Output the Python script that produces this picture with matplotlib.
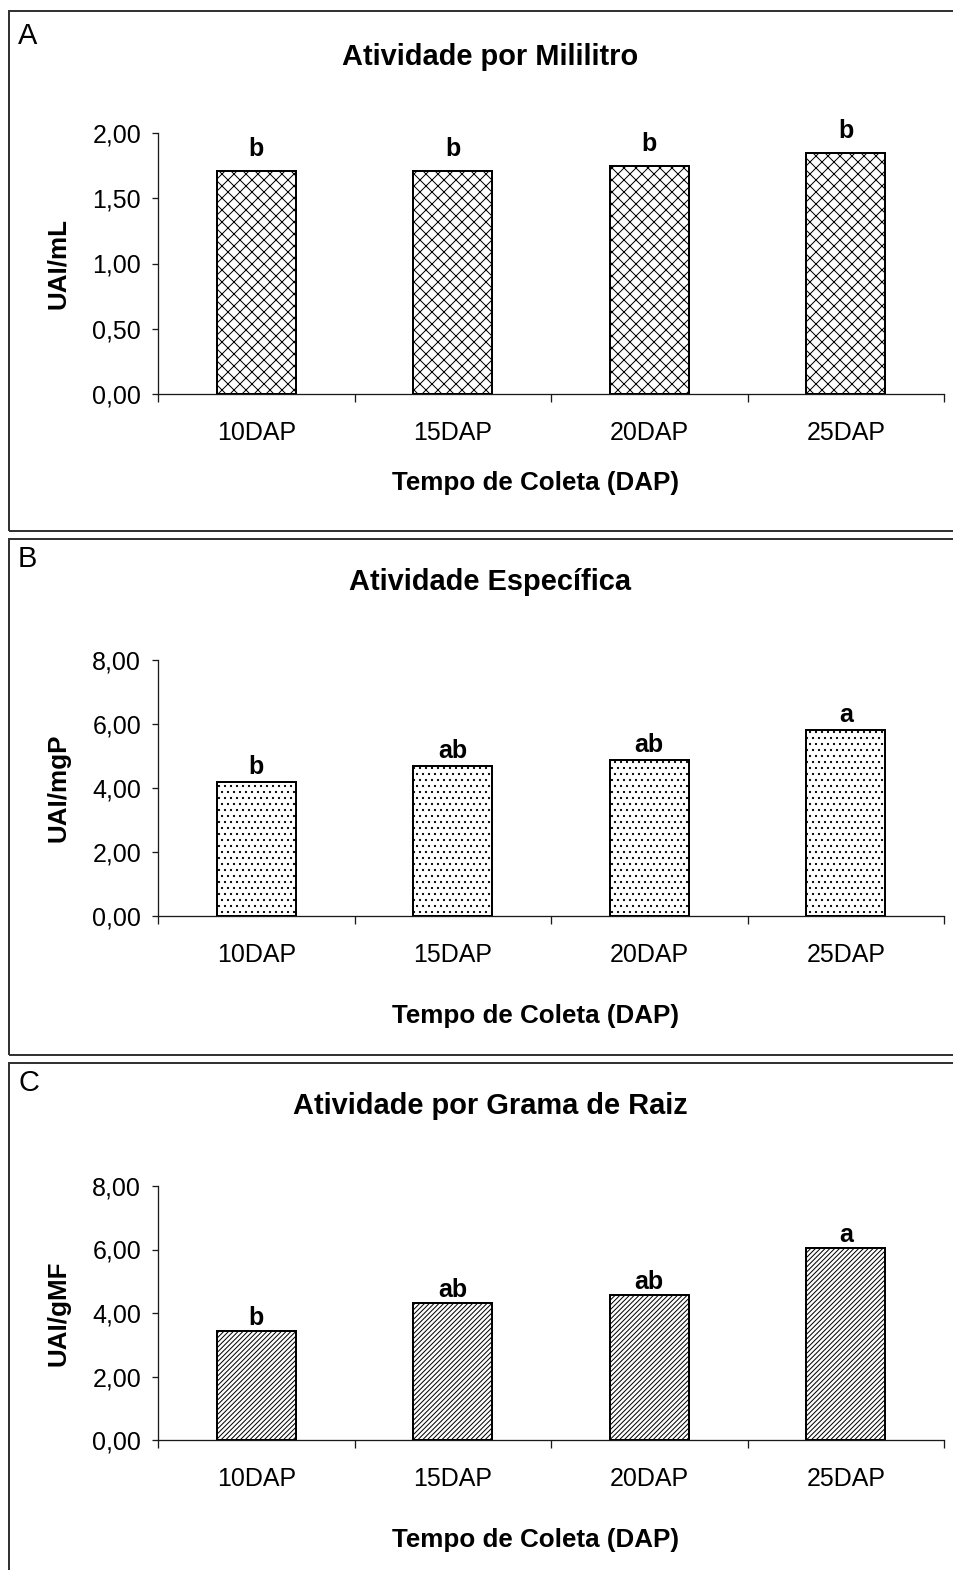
import matplotlib
matplotlib.use("Agg")
import matplotlib.pyplot as plt
from matplotlib.patches import Rectangle

# ---- data -------------------------------------------------------------
categories = ["10DAP", "15DAP", "20DAP", "25DAP"]

per_ml = [1.71, 1.71, 1.75, 1.85]
per_ml_letters = ["b", "b", "b", "b"]
per_ml_ticks = [0.0, 0.5, 1.0, 1.5, 2.0]

specific = [4.19, 4.69, 4.87, 5.81]
specific_letters = ["b", "ab", "ab", "a"]
specific_ticks = [0.0, 2.0, 4.0, 6.0, 8.0]

per_gram = [3.43, 4.33, 4.58, 6.06]
per_gram_letters = ["b", "ab", "ab", "a"]
per_gram_ticks = [0.0, 2.0, 4.0, 6.0, 8.0]

x_title = "Tempo de Coleta (DAP)"

# ---- figure (72 dpi so that 1 pt == 1 px) -----------------------------
W, H, DPI = 953, 1570, 72
plt.rcParams["font.family"] = ["Liberation Sans", "DejaVu Sans"]
plt.rcParams["hatch.linewidth"] = 1.0
plt.rcParams["hatch.color"] = "black"

fig = plt.figure(figsize=(W / DPI, H / DPI), dpi=DPI)
fig.patch.set_facecolor("white")


def fx(px):
    return px / W


def fy(py):
    return 1 - py / H


def fmt(v):
    return f"{v:.2f}".replace(".", ",")


panels = [
    dict(tag="A", title="Atividade por Mililitro", ylabel="UAI/mL",
         values=per_ml, letters=per_ml_letters, ticks=per_ml_ticks,
         hatch="xx", box=(11, 531), plot=(133, 394),
         title_base=65, tag_base=44, xlabel_base=490, gap=10),
    dict(tag="B", title="Atividade Específica", ylabel="UAI/mgP",
         values=specific, letters=specific_letters, ticks=specific_ticks,
         hatch="..", box=(539, 1055), plot=(660, 916),
         title_base=590, tag_base=567, xlabel_base=1023, gap=3),
    dict(tag="C", title="Atividade por Grama de Raiz", ylabel="UAI/gMF",
         values=per_gram, letters=per_gram_letters, ticks=per_gram_ticks,
         hatch="/////", box=(1063, 1590), plot=(1186, 1440),
         title_base=1114, tag_base=1091, xlabel_base=1547, gap=1),
]

AX_L, AX_R = 158, 944
spine_col = "#1a1a1a"

for p in panels:
    top, bot = p["box"]
    fig.add_artist(Rectangle((fx(9), fy(bot)), fx(1000 - 9), (bot - top) / H,
                             transform=fig.transFigure, fill=False,
                             lw=2, ec="#333333"))

    ptop, pbot = p["plot"]
    ax = fig.add_axes([fx(AX_L), fy(pbot), fx(AX_R) - fx(AX_L), (pbot - ptop) / H])
    ax.set_facecolor("none")
    xs = list(range(len(categories)))
    bars = ax.bar(xs, p["values"], width=0.4, color="white",
                  edgecolor="black", linewidth=2, hatch=p["hatch"], zorder=3)

    ax.set_xlim(-0.5, len(categories) - 0.5)
    ax.set_ylim(p["ticks"][0], p["ticks"][-1])

    for s in ("top", "right"):
        ax.spines[s].set_visible(False)
    for s in ("left", "bottom"):
        ax.spines[s].set_color(spine_col)
        ax.spines[s].set_linewidth(1.3)

    ax.set_xticks(xs)
    ax.set_xticklabels(categories, fontsize=25)
    ax.tick_params(axis="x", which="major", length=0, pad=27)
    ax.set_xticks([i - 0.5 for i in range(len(categories) + 1)], minor=True)
    ax.tick_params(axis="x", which="minor", length=8, width=1.3,
                   direction="out", color=spine_col)

    ax.set_yticks(p["ticks"])
    ax.set_yticklabels([fmt(t) for t in p["ticks"]], fontsize=25)
    ax.tick_params(axis="y", length=6, width=1.3, pad=11, direction="out",
                   color=spine_col)

    for b, lab in zip(bars, p["letters"]):
        ax.annotate(lab, (b.get_x() + b.get_width() / 2, b.get_height()),
                    xytext=(0, p["gap"]), textcoords="offset points",
                    ha="center", va="bottom", fontsize=25, fontweight="bold")

    fig.text(fx(490), fy(p["title_base"]), p["title"], ha="center",
             va="baseline", fontsize=29, fontweight="bold")
    fig.text(fx(18), fy(p["tag_base"]), p["tag"], ha="left",
             va="baseline", fontsize=29)
    fig.text(fx(535), fy(p["xlabel_base"]), x_title, ha="center",
             va="baseline", fontsize=26, fontweight="bold")
    fig.text(fx(58), fy((ptop + pbot) / 2), p["ylabel"], rotation=90,
             ha="center", va="center", fontsize=26, fontweight="bold")

fig.savefig("out.png", dpi=DPI, facecolor="white")
